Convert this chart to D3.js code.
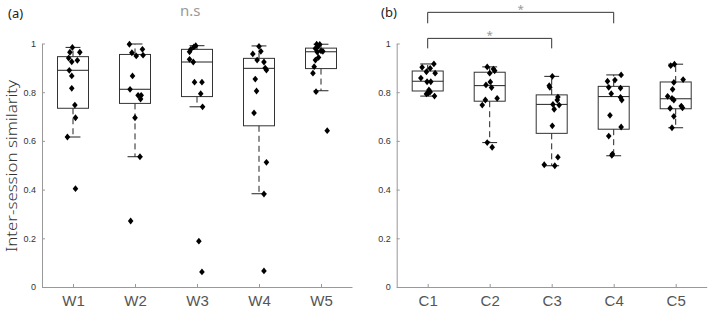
<!DOCTYPE html>
<html>
<head>
<meta charset="utf-8">
<script src="https://cdn.jsdelivr.net/npm/d3@7"></script>
<style>
  body { margin: 0; background: #fff; }
  svg { display: block; font-family: "Noto Sans", "DejaVu Sans", sans-serif; }
</style>
</head>
<body>
<div id="chart"></div>
<script>
// ---- data ----
var groupsA = ["W1", "W2", "W3", "W4", "W5"];
var groupsB = ["C1", "C2", "C3", "C4", "C5"];
var yTicks = [0, 0.2, 0.4, 0.6, 0.8, 1];

// individual points (values) and their horizontal jitter (in category units)
var valuesA = [
  [0.984, 0.964, 0.964, 0.940, 0.925, 0.931, 0.890, 0.867, 0.816, 0.747, 0.695, 0.616, 0.404],
  [0.997, 0.962, 0.949, 0.976, 0.952, 0.867, 0.812, 0.787, 0.787, 0.772, 0.695, 0.535, 0.271],
  [0.991, 0.986, 0.976, 0.966, 0.935, 0.924, 0.841, 0.841, 0.794, 0.740, 0.188, 0.062],
  [0.988, 0.957, 0.968, 0.932, 0.924, 0.899, 0.891, 0.854, 0.805, 0.715, 0.512, 0.382, 0.066],
  [0.997, 0.996, 0.984, 0.979, 0.970, 0.965, 0.968, 0.943, 0.932, 0.905, 0.878, 0.802, 0.642]
];
var jitterA = [
  [-0.01, -0.05, 0.11, -0.07, -0.02, 0.07, -0.06, -0.02, -0.02, 0.03, 0.04, -0.09, 0.04],
  [-0.09, -0.05, 0.02, 0.12, 0.13, -0.04, -0.08, 0.05, 0.10, 0.09, 0, 0.08, -0.07],
  [-0.02, -0.05, -0.10, -0.12, -0.12, -0.06, -0.04, 0.08, 0.06, 0.09, 0.03, 0.08],
  [0, -0.10, 0.03, -0.03, 0.08, 0.10, 0.12, -0.06, -0.04, -0.08, 0.12, 0.08, 0.08],
  [-0.07, -0.02, -0.06, -0.09, 0, -0.06, 0.03, -0.04, -0.09, -0.11, -0.13, -0.08, 0.10]
];
var valuesB = [
  [0.902, 0.898, 0.916, 0.884, 0.878, 0.858, 0.843, 0.843, 0.809, 0.801, 0.793, 0.796, 0.784],
  [0.904, 0.895, 0.888, 0.878, 0.842, 0.830, 0.819, 0.775, 0.768, 0.747, 0.593, 0.574],
  [0.865, 0.827, 0.820, 0.780, 0.768, 0.750, 0.747, 0.730, 0.662, 0.533, 0.502, 0.498],
  [0.871, 0.850, 0.845, 0.820, 0.817, 0.794, 0.779, 0.768, 0.705, 0.657, 0.620, 0.546, 0.541],
  [0.909, 0.915, 0.852, 0.840, 0.812, 0.783, 0.775, 0.768, 0.743, 0.736, 0.734, 0.701, 0.654]
];
var jitterB = [
  [-0.09, 0.04, 0.10, -0.02, 0.12, -0.11, -0.01, 0.05, 0.02, 0.04, -0.02, 0.01, 0.11],
  [-0.04, 0.06, 0.08, 0, 0.01, -0.06, 0.03, 0.12, -0.07, -0.12, -0.04, 0.04],
  [0.01, -0.04, -0.03, 0.10, 0.09, 0.02, 0.12, 0.04, 0.01, 0.10, -0.12, 0.05],
  [0.12, 0.02, -0.10, -0.08, 0.11, -0.04, 0.11, 0.13, -0.06, 0.12, -0.08, -0.02, -0.03],
  [-0.08, -0.02, 0.12, -0.03, -0.05, -0.13, -0.06, -0.03, 0.09, 0.11, -0.09, -0.03, -0.06]
];

// box statistics
var q1A = [0.734, 0.754, 0.782, 0.662, 0.897];
var medA = [0.890, 0.812, 0.924, 0.898, 0.966];
var q3A = [0.946, 0.955, 0.976, 0.939, 0.981];
var loA = [0.616, 0.535, 0.740, 0.383, 0.806];
var hiA = [0.984, 0.998, 0.991, 0.990, 0.997];

var q1B = [0.805, 0.763, 0.631, 0.648, 0.732];
var medB = [0.845, 0.827, 0.750, 0.782, 0.773];
var q3B = [0.887, 0.882, 0.789, 0.824, 0.842];
var loB = [0.784, 0.593, 0.498, 0.539, 0.654];
var hiB = [0.916, 0.904, 0.865, 0.871, 0.915];

// significance brackets in panel (b)
var bracketFrom = [1, 1];
var bracketTo = [4, 3];
var bracketTop = [1.128, 1.021];
var bracketLeg = [1.083, 0.980];
var bracketMark = ["*", "*"];

// ---- drawing ----
var w = 708, h = 311;
var svg = d3.select("#chart").append("svg")
    .attr("width", w)
    .attr("height", h);

var yScale = d3.scaleLinear().domain([0, 1]).range([287, 43.5]);

function panel(names, values, jitter, q1, med, q3, lo, hi, left, right) {
    var xScale = d3.scaleLinear().domain([0.5, 5.5]).range([left, right]);
    var g = svg.append("g");

    var yAxis = d3.axisLeft(yScale)
        .tickValues(yTicks)
        .tickFormat(d3.format("~g"))
        .tickSizeInner(-3)
        .tickSizeOuter(0)
        .tickPadding(6);
    var ya = g.append("g")
        .attr("transform", "translate(" + left + ",0)")
        .call(yAxis);
    ya.select(".domain").attr("stroke", "#999");
    ya.selectAll(".tick line").attr("stroke", "#999");
    ya.selectAll(".tick text").attr("fill", "#333").style("font-size", "9px");

    var xAxis = d3.axisBottom(xScale)
        .tickValues(d3.range(1, names.length + 1))
        .tickFormat(function(d){ return names[d - 1]; })
        .tickSizeInner(-3)
        .tickSizeOuter(0)
        .tickPadding(8);
    var xa = g.append("g")
        .attr("transform", "translate(0," + yScale(0) + ")")
        .call(xAxis);
    xa.select(".domain").attr("stroke", "#999");
    xa.selectAll(".tick line").attr("stroke", "#999");
    xa.selectAll(".tick text").attr("fill", "#555").style("font-size", "15px").style("font-weight", "300");

    var half = 0.25, cap = 0.12;
    names.forEach(function(n, i){
        var c = i + 1;
        // whiskers
        g.append("line")
            .attr("x1", xScale(c)).attr("x2", xScale(c))
            .attr("y1", yScale(q3[i])).attr("y2", yScale(hi[i]))
            .attr("stroke", "#222").attr("stroke-dasharray", "6,4");
        g.append("line")
            .attr("x1", xScale(c)).attr("x2", xScale(c))
            .attr("y1", yScale(q1[i])).attr("y2", yScale(lo[i]))
            .attr("stroke", "#222").attr("stroke-dasharray", "6,4");
        [hi[i], lo[i]].forEach(function(v){
            g.append("line")
                .attr("x1", xScale(c - cap)).attr("x2", xScale(c + cap))
                .attr("y1", yScale(v)).attr("y2", yScale(v))
                .attr("stroke", "#222");
        });
        // box
        g.append("rect")
            .attr("x", xScale(c - half))
            .attr("y", yScale(q3[i]))
            .attr("width", xScale(c + half) - xScale(c - half))
            .attr("height", yScale(q1[i]) - yScale(q3[i]))
            .attr("fill", "none")
            .attr("stroke", "#333");
        g.append("line")
            .attr("x1", xScale(c - half)).attr("x2", xScale(c + half))
            .attr("y1", yScale(med[i])).attr("y2", yScale(med[i]))
            .attr("stroke", "#222");
        // points
        g.selectAll(null)
            .data(values[i])
            .enter().append("path")
            .attr("d", "M0,-3.4L2.8,0L0,3.4L-2.8,0Z")
            .attr("transform", function(d, k){
                return "translate(" + xScale(c + jitter[i][k]) + "," + yScale(d) + ")";
            })
            .attr("fill", "#000");
    });
    return xScale;
}

var xA = panel(groupsA, valuesA, jitterA, q1A, medA, q3A, loA, hiA, 42, 352);
var xB = panel(groupsB, valuesB, jitterB, q1B, medB, q3B, loB, hiB, 396.7, 706.7);

// brackets
bracketFrom.forEach(function(f, i){
    var x1 = xB(f), x2 = xB(bracketTo[i]);
    svg.append("path")
        .attr("d", "M" + x1 + "," + yScale(bracketLeg[i]) +
                   "V" + yScale(bracketTop[i]) +
                   "H" + x2 +
                   "V" + yScale(bracketLeg[i]))
        .attr("fill", "none")
        .attr("stroke", "#333");
    svg.append("text")
        .attr("x", (x1 + x2) / 2)
        .attr("y", yScale(bracketTop[i]) + 0.5)
        .attr("text-anchor", "middle")
        .attr("fill", "#999")
        .style("font-size", "11.5px")
        .text(bracketMark[i]);
});

// labels
svg.append("text").attr("x", 8).attr("y", 18).attr("fill", "#222")
    .style("font-size", "13px").text("(a)");
svg.append("text").attr("x", 381).attr("y", 17).attr("fill", "#222")
    .style("font-size", "13px").text("(b)");
svg.append("text").attr("x", 180).attr("y", 16).attr("fill", "#999")
    .style("font-size", "15px").text("n.s");
svg.append("text")
    .attr("transform", "translate(16.5,166) rotate(-90)")
    .attr("text-anchor", "middle")
    .attr("fill", "#333")
    .attr("textLength", 172)
    .attr("lengthAdjust", "spacingAndGlyphs")
    .style("font-size", "15px")
    .style("font-weight", "300")
    .text("Inter-session similarity");
</script>
</body>
</html>
